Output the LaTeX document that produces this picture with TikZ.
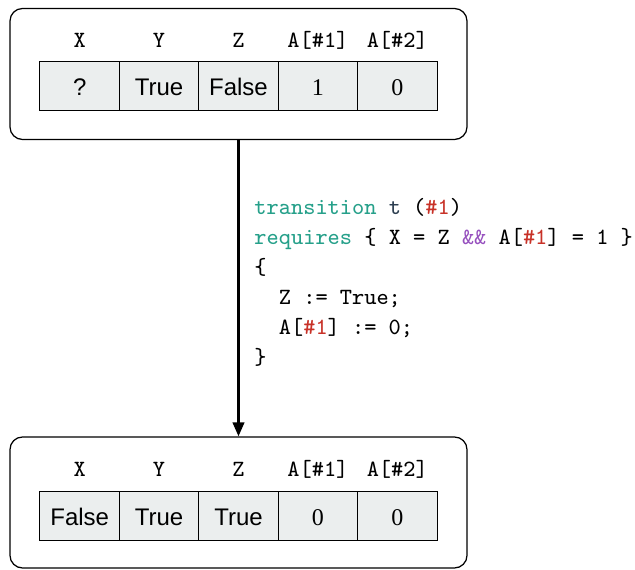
\documentclass[tikz,border=0pt]{standalone}
\usepackage{fontspec}
\setsansfont{Liberation Sans}
\newfontfamily\numfont{Liberation Serif}
\usepackage{tikz}
\usetikzlibrary{arrows.meta}

\definecolor{cellgray}{RGB}{235,238,238}
\definecolor{kwteal}{RGB}{38,160,138}
\definecolor{idslate}{RGB}{44,62,80}
\definecolor{parred}{RGB}{200,50,40}
\definecolor{oppurple}{RGB}{150,80,190}

\newcommand{\kw}[1]{\textcolor{kwteal}{#1}}
\newcommand{\pvar}[1]{\textcolor{parred}{#1}}

\tikzset{
  statebox/.style={draw, line width=0.5pt, rounded corners=5pt, minimum width=182.8pt, minimum height=52.4pt},
  hdr/.style={font=\ttfamily\fontsize{9.3}{11}\selectfont, text height=1.6ex, text depth=0.3ex, inner sep=0pt},
  cell/.style={draw, line width=0.4pt, fill=cellgray, minimum width=31.76pt, minimum height=19.6pt, inner sep=0pt, text height=1.6ex, text depth=0pt},
  bcell/.style={cell, font=\sffamily\fontsize{9.6}{11}\selectfont},
  ncell/.style={cell, font=\numfont\fontsize{9.6}{11}\selectfont},
}

\begin{document}
\begin{tikzpicture}[x=0.4pt,y=-0.4pt]

	\useasboundingbox (0,0) rectangle (635,570);

	%Zustand vorher
	\node[statebox] (before) at (238.5,74) {};
	\node[hdr] (hx1) at (79.7,41) {X};
	\node[hdr] (hy1) at (159.1,41) {Y};
	\node[hdr] (hz1) at (238.5,41) {Z};
	\node[hdr] (ha1) at (317.9,41) {A[\#1]};
	\node[hdr] (hb1) at (397.3,41) {A[\#2]};
	\node[bcell] (cx1) at (79.7,86.5) {?};
	\node[bcell] (cy1) at (159.1,86.5) {True};
	\node[bcell] (cz1) at (238.5,86.5) {False};
	\node[ncell] (ca1) at (317.9,86.5) {1};
	\node[ncell] (cb1) at (397.3,86.5) {0};

	%Zustand nachher
	\node[statebox] (after) at (238.5,502.5) {};
	\node[hdr] (hx2) at (79.7,470) {X};
	\node[hdr] (hy2) at (159.1,470) {Y};
	\node[hdr] (hz2) at (238.5,470) {Z};
	\node[hdr] (ha2) at (317.9,470) {A[\#1]};
	\node[hdr] (hb2) at (397.3,470) {A[\#2]};
	\node[bcell] (cx2) at (79.7,516.5) {False};
	\node[bcell] (cy2) at (159.1,516.5) {True};
	\node[bcell] (cz2) at (238.5,516.5) {True};
	\node[ncell] (ca2) at (317.9,516.5) {0};
	\node[ncell] (cb2) at (397.3,516.5) {0};

	%Transition
	\draw[line width=1pt, -{Triangle[length=5.6pt,width=4.6pt]}] (before.south) -- (after.north);
	\node[anchor=base west, align=left, inner sep=0pt, font=\ttfamily\fontsize{9.3}{12}\selectfont] (code) at (254,365)
		{\kw{transition} \textcolor{idslate}{t} (\pvar{\#1})\\
		 \kw{requires} \{ X = Z \textcolor{oppurple}{\&\&} A[\pvar{\#1}] = 1 \}\\
		 \{\\
		 \phantom{xx}Z := True;\\
		 \phantom{xx}A[\pvar{\#1}] := 0;\\
		 \}};

\end{tikzpicture}
\end{document}
